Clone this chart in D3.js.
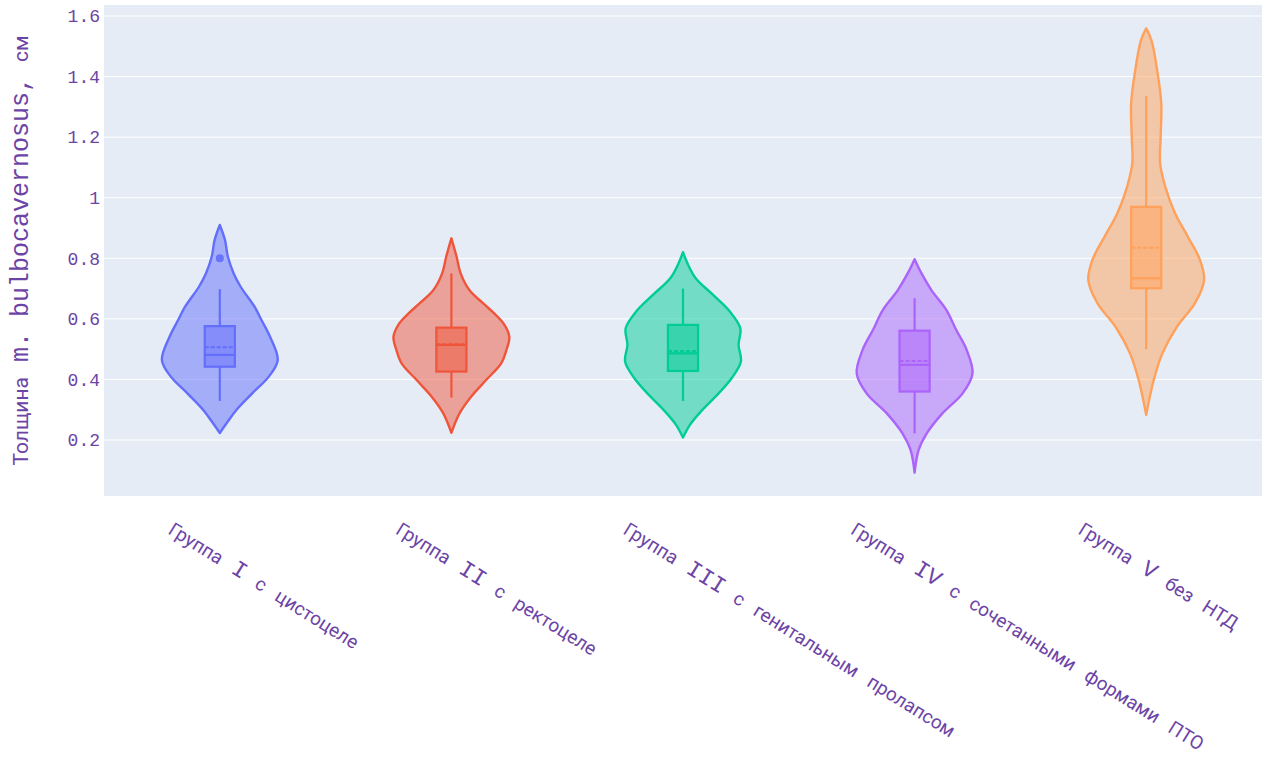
<!DOCTYPE html>
<html>
<head>
<meta charset="utf-8">
<script src="https://cdn.jsdelivr.net/npm/d3@7"></script>
<style>
  html, body { margin: 0; padding: 0; background: #ffffff; }
  svg { display: block; }
</style>
</head>
<body>
<svg id="chart" width="1268" height="758"></svg>
<script>
// ---- data -------------------------------------------------------------
const categories = [
  "Группа I с цистоцеле",
  "Группа II с ректоцеле",
  "Группа III с генитальным пролапсом",
  "Группа IV с сочетанными формами ПТО",
  "Группа V без НТД"
];
const colors = ["#636efa", "#EF553B", "#00cc96", "#ab63fa", "#FFA15A"];

// kernel density profiles: [thickness, relative density]
const densityI = [[0.91,0],[0.86,0.09],[0.805,0.14],[0.75,0.24],[0.706,0.36],[0.64,0.6],[0.596,0.72],[0.54,0.87],[0.464,1],[0.41,0.85],[0.354,0.56],[0.30,0.29],[0.256,0.12],[0.223,0]];
const densityII = [[0.866,0],[0.805,0.09],[0.75,0.16],[0.695,0.31],[0.651,0.55],[0.618,0.74],[0.585,0.9],[0.541,1],[0.497,0.95],[0.453,0.86],[0.398,0.6],[0.343,0.34],[0.288,0.14],[0.224,0]];
const densityIII = [[0.82,0],[0.778,0.09],[0.734,0.22],[0.679,0.52],[0.624,0.81],[0.569,0.99],[0.514,0.96],[0.459,1],[0.404,0.84],[0.349,0.59],[0.294,0.31],[0.25,0.12],[0.208,0]];
const densityIV = [[0.797,0],[0.75,0.12],[0.695,0.29],[0.629,0.55],[0.563,0.72],[0.497,0.9],[0.42,1],[0.354,0.83],[0.288,0.48],[0.222,0.21],[0.167,0.07],[0.092,0]];
const densityV = [[1.559,0],[1.52,0.09],[1.42,0.19],[1.312,0.26],[1.201,0.25],[1.114,0.24],[1.036,0.33],[0.948,0.5],[0.871,0.72],[0.794,0.93],[0.728,1],[0.651,0.84],[0.574,0.53],[0.486,0.28],[0.398,0.13],[0.283,0]];
const densities = [densityI, densityII, densityIII, densityIV, densityV];

// box statistics per group
const q1 = [0.442, 0.426, 0.428, 0.360, 0.701];
const medians = [0.481, 0.514, 0.486, 0.448, 0.734];
const q3 = [0.576, 0.571, 0.580, 0.561, 0.970];
const means = [0.506, 0.516, 0.494, 0.461, 0.835];
const lowerFences = [0.329, 0.340, 0.329, 0.222, 0.500];
const upperFences = [0.698, 0.750, 0.700, 0.668, 1.336];
const outliers = [[0.80], [], [], [], []];

const yTicks = [0.2, 0.4, 0.6, 0.8, 1.0, 1.2, 1.4, 1.6];
const yTickLabels = ["0.2", "0.4", "0.6", "0.8", "1", "1.2", "1.4", "1.6"];
const yTitle = "Толщина m. bulbocavernosus, см";

// ---- layout -----------------------------------------------------------
const W = 1268, H = 758;
const margin = { top: 5, right: 6, bottom: 262, left: 104 };
const innerW = W - margin.left - margin.right;
const innerH = H - margin.top - margin.bottom;
const textColor = "#6c44a6";
const monoFont = "'Liberation Mono', 'Courier New', monospace";
const cyrFont = "Roboto, 'Noto Sans', sans-serif";

const svg = d3.select("#chart");
const g = svg.append("g").attr("transform", `translate(${margin.left},${margin.top})`);

const x = d3.scaleBand().domain(categories).range([0, innerW]).padding(0);
const y = d3.scaleLinear().domain([0.0151, 1.6363]).range([innerH, 0]);
const w = d3.scaleLinear().domain([0, 1]).range([0, x.bandwidth() * 0.25]);
const labelX = d3.scalePoint().domain(categories).range([167 - margin.left, 1077 - margin.left]);

// mixed-script text: latin runs in monospace, cyrillic runs in sans
function mixedText(sel, str, latinSize, cyrSize) {
  const runs = str.match(/[\u0400-\u04FF]+|[^\u0400-\u04FF]+/g) || [];
  runs.forEach(r => {
    const cyr = /[\u0400-\u04FF]/.test(r);
    sel.append("tspan")
      .attr("font-family", cyr ? cyrFont : monoFont)
      .attr("font-size", cyr ? cyrSize : latinSize)
      .style("white-space", "pre")
      .text(r);
  });
}

// background
g.append("rect").attr("width", innerW).attr("height", innerH).attr("fill", "#E5ECF6");

// grid
g.append("g").selectAll("line").data(yTicks).join("line")
  .attr("x1", 0).attr("x2", innerW)
  .attr("y1", d => y(d)).attr("y2", d => y(d))
  .attr("stroke", "#ffffff").attr("stroke-width", 1);

// y axis labels
const yAxis = d3.axisLeft(y).tickValues(yTicks).tickSize(0).tickPadding(4)
  .tickFormat((d, i) => yTickLabels[i]);
const ya = g.append("g").call(yAxis);
ya.select(".domain").remove();
ya.selectAll("text")
  .attr("font-family", monoFont).attr("font-size", 18)
  .attr("fill", textColor);

// y title
const yt = svg.append("text")
  .attr("transform", `translate(28,${margin.top + innerH / 2}) rotate(-90)`)
  .attr("text-anchor", "middle")
  .attr("fill", textColor);
mixedText(yt, yTitle, 25, 21);

// x labels, rotated
categories.forEach(c => {
  const t = g.append("text")
    .attr("transform", `translate(${labelX(c)},${innerH + 37}) rotate(32)`)
    .attr("text-anchor", "start")
    .attr("fill", textColor);
  mixedText(t, c, 23, 19);
});

// violins
const area = d3.area()
  .y(d => y(d[0]))
  .x0(d => -w(d[1]))
  .x1(d => w(d[1]))
  .curve(d3.curveCatmullRom.alpha(0.5));

categories.forEach((c, i) => {
  const cx = x(c) + x.bandwidth() / 2;
  const col = colors[i];
  const vg = g.append("g").attr("transform", `translate(${cx},0)`);

  vg.append("path")
    .attr("d", area(densities[i]))
    .attr("fill", col).attr("fill-opacity", 0.5)
    .attr("stroke", col).attr("stroke-width", 2.4)
    .attr("stroke-linejoin", "round");

  const bw = w(0.26);
  // whiskers
  vg.append("line").attr("x1", 0).attr("x2", 0)
    .attr("y1", y(q3[i])).attr("y2", y(upperFences[i]))
    .attr("stroke", col).attr("stroke-width", 2.2);
  vg.append("line").attr("x1", 0).attr("x2", 0)
    .attr("y1", y(q1[i])).attr("y2", y(lowerFences[i]))
    .attr("stroke", col).attr("stroke-width", 2.2);
  // box
  vg.append("rect")
    .attr("x", -bw).attr("width", 2 * bw)
    .attr("y", y(q3[i])).attr("height", y(q1[i]) - y(q3[i]))
    .attr("fill", col).attr("fill-opacity", 0.5)
    .attr("stroke", col).attr("stroke-width", 2.2);
  // median
  vg.append("line").attr("x1", -bw).attr("x2", bw)
    .attr("y1", y(medians[i])).attr("y2", y(medians[i]))
    .attr("stroke", col).attr("stroke-width", 2.2);
  // mean
  vg.append("line").attr("x1", -bw).attr("x2", bw)
    .attr("y1", y(means[i])).attr("y2", y(means[i]))
    .attr("stroke", col).attr("stroke-width", 2)
    .attr("stroke-dasharray", "4,2");
  // outliers
  vg.selectAll("circle").data(outliers[i]).join("circle")
    .attr("cx", 0).attr("cy", d => y(d)).attr("r", 4)
    .attr("fill", col).attr("fill-opacity", 0.9);
});
</script>
</body>
</html>
